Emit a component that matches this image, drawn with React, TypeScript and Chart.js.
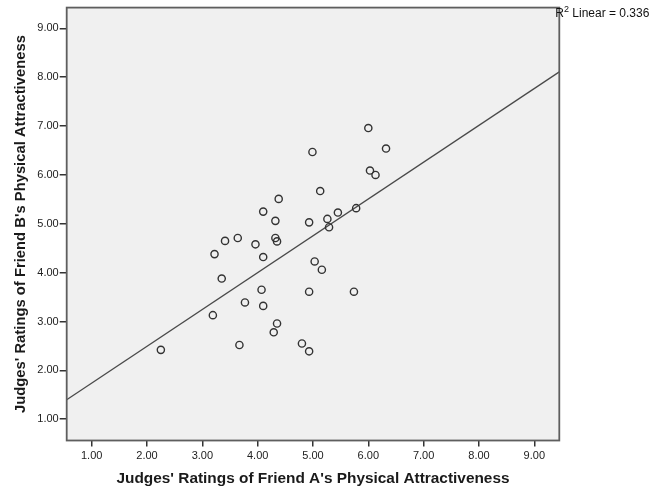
import React, { useEffect, useRef } from "react";
import { Chart, registerables } from "chart.js";

Chart.register(...registerables);

// Judges' ratings
const FRIEND_A: number[] = [
  6.0, 6.32, 4.99, 6.03, 6.13, 5.13, 4.38, 4.1, 4.32, 4.93, 5.45, 5.78,
  5.26, 5.29, 3.64, 3.41, 4.32, 4.35, 3.96, 3.22, 4.1, 5.03, 5.16, 3.35,
  4.07, 4.93, 5.74, 3.77, 4.1, 3.19, 4.35, 4.29, 3.67, 4.8, 4.93, 2.25,
];
const FRIEND_B: number[] = [
  6.96, 6.54, 6.47, 6.09, 6.0, 5.67, 5.51, 5.25, 5.06, 5.03, 5.23, 5.32,
  5.1, 4.93, 4.71, 4.65, 4.71, 4.64, 4.58, 4.38, 4.32, 4.23, 4.06, 3.88,
  3.65, 3.61, 3.61, 3.39, 3.32, 3.13, 2.96, 2.78, 2.52, 2.55, 2.39, 2.42,
];
const TICK_VALUES: number[] = [1, 2, 3, 4, 5, 6, 7, 8, 9];
const X_RANGE: number[] = [0.548, 9.452];
const Y_RANGE: number[] = [0.565, 9.425];
const X_TITLE = "Judges' Ratings of Friend A's Physical Attractiveness";
const Y_TITLE = "Judges' Ratings of Friend B's Physical Attractiveness";
const R2_VALUE = "0.336";

function leastSquares(xs: number[], ys: number[]) {
  const n = xs.length;
  const mx = xs.reduce((a, b) => a + b, 0) / n;
  const my = ys.reduce((a, b) => a + b, 0) / n;
  let sxy = 0;
  let sxx = 0;
  for (let i = 0; i < n; i++) {
    sxy += (xs[i] - mx) * (ys[i] - my);
    sxx += (xs[i] - mx) * (xs[i] - mx);
  }
  const slope = sxy / sxx;
  return { slope, intercept: my - slope * mx };
}

const FONT = "'Liberation Sans', Arial, sans-serif";

const framePlugin = {
  id: "spssFrame",
  beforeDraw(chart: any) {
    const { ctx, chartArea: a } = chart;
    ctx.save();
    ctx.fillStyle = "#ffffff";
    ctx.fillRect(0, 0, chart.width, chart.height);
    ctx.fillStyle = "#f0f0f0";
    ctx.fillRect(a.left, a.top, a.right - a.left, a.bottom - a.top);
    ctx.restore();
  },
  afterDatasetsDraw(chart: any) {
    const { ctx, chartArea: a } = chart;
    ctx.save();
    ctx.strokeStyle = "#5e5e5e";
    ctx.lineWidth = 1.8;
    ctx.strokeRect(a.left, a.top, a.right - a.left, a.bottom - a.top);
    ctx.restore();
  },
  afterDraw(chart: any) {
    const { ctx, chartArea: a } = chart;
    ctx.save();
    ctx.fillStyle = "#111111";
    ctx.textBaseline = "alphabetic";
    ctx.textAlign = "left";
    let x = a.right - 4;
    const y = 17;
    ctx.font = `12px ${FONT}`;
    ctx.fillText("R", x, y);
    x += ctx.measureText("R").width;
    ctx.font = `9px ${FONT}`;
    ctx.fillText("2", x, y - 5);
    x += ctx.measureText("2").width;
    ctx.font = `12px ${FONT}`;
    ctx.fillText(" Linear = " + R2_VALUE, x, y);
    ctx.restore();
  },
};

export default function App() {
  const ref = useRef<HTMLCanvasElement>(null);

  useEffect(() => {
    document.body.style.margin = "0";
    const canvas = ref.current;
    if (!canvas) return;
    const fit = leastSquares(FRIEND_A, FRIEND_B);
    const lineData = X_RANGE.map((x) => ({ x, y: fit.intercept + fit.slope * x }));
    const points = FRIEND_A.map((x, i) => ({ x, y: FRIEND_B[i] }));

    const tickFont = { family: FONT, size: 11 };

    const chart = new Chart(canvas, {
      type: "scatter",
      data: {
        datasets: [
          {
            data: points,
            showLine: false,
            pointStyle: "circle",
            pointRadius: 3.6,
            pointBorderWidth: 1.4,
            pointBorderColor: "#333333",
            pointBackgroundColor: "rgba(0,0,0,0)",
            order: 1,
          },
          {
            type: "line",
            data: lineData,
            showLine: true,
            pointRadius: 0,
            borderColor: "#4a4a4a",
            borderWidth: 1.3,
            fill: false,
            order: 2,
          } as any,
        ],
      },
      options: {
        responsive: false,
        animation: false,
        devicePixelRatio: 1,
        layout: { padding: { left: 0, right: 90.7, top: 3, bottom: 0 } },
        plugins: {
          legend: { display: false },
          tooltip: { enabled: false },
        },
        scales: {
          x: {
            type: "linear",
            min: X_RANGE[0],
            max: X_RANGE[1],
            afterBuildTicks: (s: any) => {
              s.ticks = TICK_VALUES.map((v) => ({ value: v }));
            },
            afterFit: (s: any) => {
              s.height = 49.5;
            },
            ticks: {
              callback: (v: any) => Number(v).toFixed(2),
              font: tickFont,
              color: "#222222",
              padding: 3,
              maxRotation: 0,
              autoSkip: false,
            },
            grid: {
              drawOnChartArea: false,
              drawTicks: true,
              tickLength: 6,
              color: "#333333",
              lineWidth: 1.5,
            },
            border: { display: false },
            title: {
              display: true,
              text: X_TITLE,
              font: { family: FONT, size: 15.4, weight: "bold" },
              color: "#1a1a1a",
              padding: { top: 0, bottom: 2 },
            },
          },
          y: {
            type: "linear",
            min: Y_RANGE[0],
            max: Y_RANGE[1],
            afterBuildTicks: (s: any) => {
              s.ticks = TICK_VALUES.map((v) => ({ value: v }));
            },
            afterFit: (s: any) => {
              s.width = 66.7;
            },
            ticks: {
              callback: (v: any) => Number(v).toFixed(2),
              font: tickFont,
              color: "#222222",
              padding: 1,
              autoSkip: false,
            },
            grid: {
              drawOnChartArea: false,
              drawTicks: true,
              tickLength: 7,
              color: "#333333",
              lineWidth: 1.5,
            },
            border: { display: false },
            title: {
              display: true,
              text: Y_TITLE,
              font: { family: FONT, size: 14.8, weight: "bold" },
              color: "#1a1a1a",
              padding: { top: 12, bottom: 0 },
            },
          },
        },
      },
      plugins: [framePlugin],
    });

    return () => chart.destroy();
  }, []);

  return (
    <div style={{ position: "absolute", left: 0, top: 0, width: 650, height: 490 }}>
      <canvas ref={ref} width={650} height={490} style={{ width: 650, height: 490, display: "block" }} />
    </div>
  );
}
